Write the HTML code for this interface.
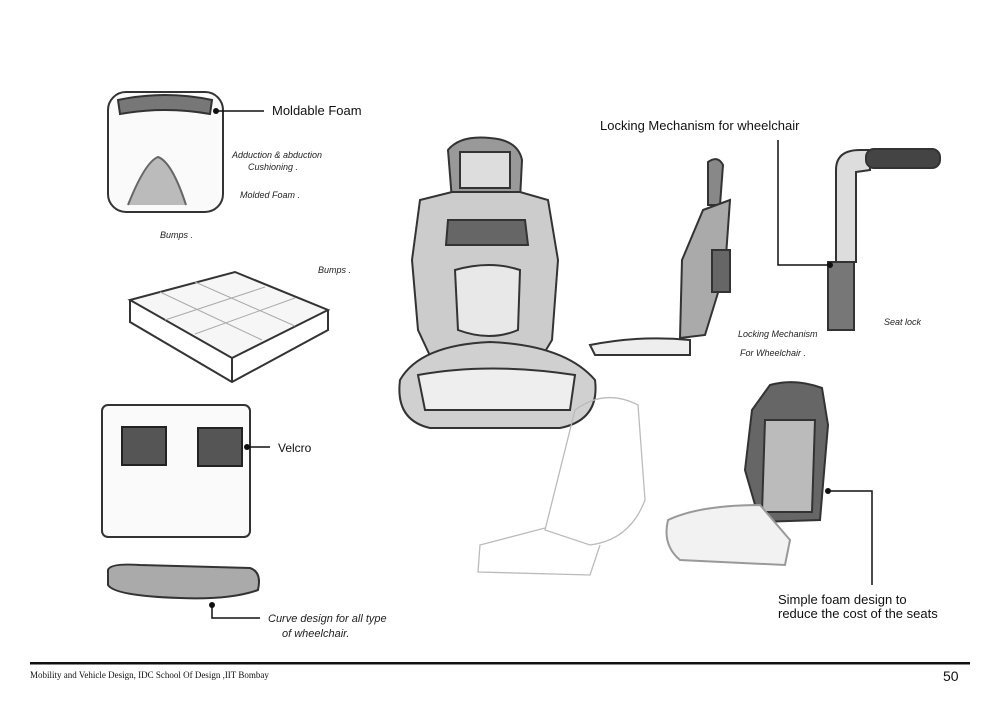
<!DOCTYPE html>
<html><head><meta charset="utf-8"><style>
html,body{margin:0;padding:0;background:#fff;}
svg{display:block}
.t{font-family:"Liberation Sans",sans-serif;font-size:13px;fill:#111}
.h{font-family:"Liberation Sans",sans-serif;font-size:9px;fill:#222;font-style:italic}
</style></head><body>
<svg width="1000" height="707" viewBox="0 0 1000 707" xmlns="http://www.w3.org/2000/svg">
<rect width="1000" height="707" fill="#fff"/>
<g fill="none" stroke="#333" stroke-width="2">
<!-- moldable foam square -->
<rect x="108" y="92" width="115" height="120" rx="18" fill="#fafafa"/>
<path d="M118 100 Q165 90 212 100 L210 114 Q165 106 120 114 Z" fill="#777"/>
<path d="M128 205 Q145 162 158 157 Q172 162 186 205" fill="#bbb" stroke="#666"/>
<!-- cushion -->
<path d="M130 300 L235 272 L328 310 L232 358 Z" fill="#f6f6f6"/>
<path d="M130 300 L130 322 L232 382 L328 330 L328 310"/>
<path d="M232 358 L232 382"/>
<g stroke="#aaa" stroke-width="1">
<path d="M160 292 L262 340"/><path d="M195 282 L295 326"/><path d="M165 320 L265 287"/><path d="M195 334 L295 298"/>
</g>
<!-- velcro board -->
<rect x="102" y="405" width="148" height="132" rx="6" fill="#fafafa"/>
<rect x="122" y="427" width="44" height="38" fill="#555" stroke="#222"/>
<rect x="198" y="428" width="44" height="38" fill="#555" stroke="#222"/>
<!-- curve cushion -->
<path d="M108 570 Q110 563 140 565 L250 568 Q262 572 258 590 Q230 600 180 598 Q115 596 108 585 Z" fill="#aaa"/>
<!-- big seat -->
<path d="M448 150 Q460 135 490 138 Q518 140 522 160 L520 200 L452 200 Z" fill="#999"/>
<path d="M460 152 L510 152 L510 188 L460 188 Z" fill="#ddd"/>
<path d="M420 200 L452 192 L520 192 L548 200 L558 260 L552 340 L540 360 L432 360 L418 330 L412 260 Z" fill="#ccc"/>
<path d="M455 270 Q490 260 520 270 L518 330 Q490 342 458 330 Z" fill="#e8e8e8"/>
<path d="M448 220 L525 220 L528 245 L446 245 Z" fill="#666"/>
<path d="M400 380 Q420 345 490 342 Q565 345 595 380 Q600 420 560 428 L430 428 Q395 420 400 380 Z" fill="#d0d0d0"/>
<path d="M418 375 Q490 362 575 375 L570 410 L425 410 Z" fill="#eee"/>
<!-- faint seat -->
<g stroke="#bbb" stroke-width="1.3">
<path d="M575 410 Q605 388 638 405 L645 500 Q630 540 590 545 L545 530 Z"/>
<path d="M545 528 L480 545 L478 572 L590 575 L600 545"/>
</g>
<!-- side seat -->
<path d="M708 162 Q718 155 723 165 L720 205 L708 205 Z" fill="#888"/>
<path d="M703 210 L730 200 L725 270 L705 335 L680 338 L682 260 Z" fill="#aaa"/>
<rect x="712" y="250" width="18" height="42" fill="#666"/>
<path d="M590 345 Q640 335 690 340 L690 355 L595 355 Z" fill="#eee"/>
<!-- lock -->
<path d="M836 170 Q836 150 860 150 L870 150 L870 170 L856 172 L856 262 L836 262 Z" fill="#ddd"/>
<rect x="866" y="149" width="74" height="19" rx="8" fill="#444"/>
<rect x="828" y="262" width="26" height="68" fill="#777"/>
<!-- small seat -->
<path d="M770 385 Q795 378 822 388 L828 425 L820 520 L760 522 L745 470 L752 410 Z" fill="#666"/>
<path d="M765 420 L815 420 L812 512 L762 512 Z" fill="#bbb"/>
<path d="M668 520 Q700 505 760 505 L790 540 L785 565 L680 560 Q662 545 668 520 Z" fill="#f2f2f2" stroke="#999"/>
</g>
<!-- callout lines -->
<g stroke="#111" stroke-width="1.5" fill="none">
<path d="M216 111 H264"/>
<path d="M245 447 H270"/>
<path d="M778 140 V265 H830"/>
<path d="M828 491 H872 V585"/>
<path d="M212 605 V618 H260"/>
</g>
<g fill="#111"><circle cx="216" cy="111" r="3"/><circle cx="247" cy="447" r="3"/><circle cx="830" cy="265" r="3"/><circle cx="828" cy="491" r="3"/><circle cx="212" cy="605" r="3"/></g>
<text class="t" x="272" y="115">Moldable Foam</text>
<text class="t" x="600" y="130">Locking Mechanism for wheelchair</text>
<text class="t" x="778" y="604">Simple foam design to</text>
<text class="t" x="778" y="618">reduce the cost of the seats</text>
<text class="t" x="278" y="452" style="font-size:12px">Velcro</text>
<text class="h" x="232" y="158">Adduction &amp; abduction</text>
<text class="h" x="248" y="170">Cushioning .</text>
<text class="h" x="240" y="198">Molded Foam .</text>
<text class="h" x="160" y="238">Bumps .</text>
<text class="h" x="318" y="273">Bumps .</text>
<text class="h" x="738" y="337">Locking Mechanism</text>
<text class="h" x="740" y="356">For  Wheelchair .</text>
<text class="h" x="884" y="325">Seat lock</text>
<text class="h" x="268" y="622" style="font-size:11px">Curve design for all type</text>
<text class="h" x="282" y="637" style="font-size:11px">of wheelchair.</text>
<rect x="30" y="662" width="940" height="2.5" fill="#111"/>
<text x="30" y="678" style="font-family:'Liberation Serif',serif;font-size:9px" fill="#111">Mobility and Vehicle Design, IDC School Of Design ,IIT Bombay</text>
<text x="943" y="681" style="font-family:'Liberation Sans',sans-serif;font-size:14px" fill="#111">50</text>
</svg>
</body></html>
